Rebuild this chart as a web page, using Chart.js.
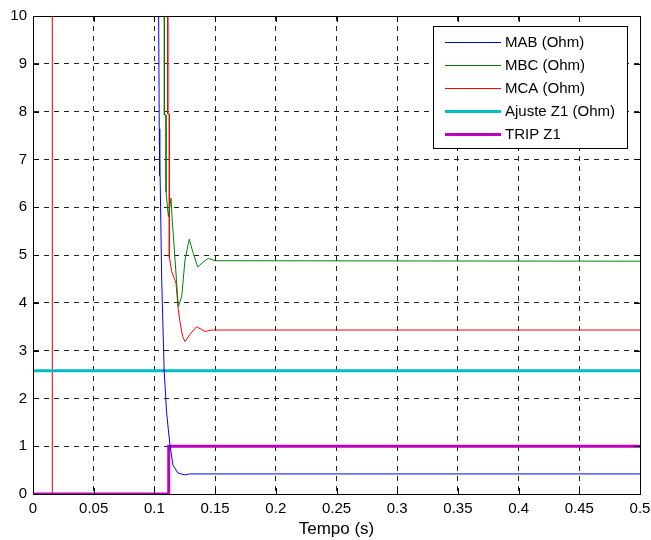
<!DOCTYPE html>
<html>
<head>
<meta charset="utf-8">
<script src="https://cdn.jsdelivr.net/npm/chart.js@4/dist/chart.umd.min.js"></script>
<style>
  html, body { margin: 0; padding: 0; background: #fff; }
  #wrap { width: 651px; height: 540px; }
</style>
</head>
<body>
<div id="wrap"><canvas id="chart" width="651" height="540"></canvas></div>
<script>
const xTicks = [0, 0.05, 0.1, 0.15, 0.2, 0.25, 0.3, 0.35, 0.4, 0.45, 0.5];
const yTicks = [0, 1, 2, 3, 4, 5, 6, 7, 8, 9, 10];

const mabT = [0.1035, 0.1040, 0.1042, 0.1046, 0.1047, 0.106, 0.108, 0.1081, 0.110, 0.1115, 0.1128, 0.1153, 0.1194, 0.125, 0.129, 0.5];
const mabV = [10, 7.64, 7.64, 6.66, 6.66, 4.5, 2.6, 2.56, 1.72, 1.34, 1.03, 0.6, 0.44, 0.40, 0.42, 0.42];

const mbcT = [0.1082, 0.1082, 0.1096, 0.1096, 0.1115, 0.1137, 0.1145, 0.1197, 0.1225, 0.1252, 0.1287, 0.1318, 0.1357, 0.140, 0.1444, 0.15, 0.5];
const mbcV = [10, 7.93, 7.93, 6.32, 5.8, 6.19, 5.8, 3.92, 4.13, 4.9, 5.33, 5.05, 4.75, 4.85, 4.93, 4.88, 4.87];

const mcaT = [0.111, 0.111, 0.1123, 0.1123, 0.1143, 0.1178, 0.1197, 0.1211, 0.1233, 0.1252, 0.1293, 0.1348, 0.1417, 0.1472, 0.5];
const mcaV = [10, 7.95, 7.95, 4.96, 4.65, 4.41, 3.85, 3.6, 3.29, 3.19, 3.34, 3.5, 3.4, 3.43, 3.43];

const ajusteT = [0, 0.5];
const ajusteV = [2.58, 2.58];

const tripT = [0, 0.1118, 0.1118, 0.5];
const tripV = [0, 0, 1, 1];

const markT = [0.0159, 0.0159];
const markV = [0, 10];

const FONT = '"Liberation Sans", Arial, sans-serif';

const pts = (ts, vs) => ts.map((t, i) => ({ x: t, y: vs[i] }));

const line = (label, ts, vs, color, width) => ({
  label,
  data: pts(ts, vs),
  borderColor: color,
  backgroundColor: color,
  borderWidth: width,
  pointRadius: 0,
  tension: 0,
  fill: false,
});

// frame, inward ticks and the legend box inside the plot area (MATLAB look)
const boxLegend = {
  id: 'boxLegend',
  afterDraw(chart) {
    const { ctx, chartArea: a } = chart;
    ctx.save();
    ctx.strokeStyle = '#000';
    ctx.lineWidth = 1;
    ctx.strokeRect(Math.round(a.left) + 0.5, Math.round(a.top) + 0.5,
      Math.round(a.right - a.left), Math.round(a.bottom - a.top));
    const xs = chart.scales.x, ys = chart.scales.y;
    ctx.beginPath();
    xTicks.forEach((t) => {
      const px = Math.round(xs.getPixelForValue(t)) + 0.5;
      ctx.moveTo(px, a.bottom); ctx.lineTo(px, a.bottom - 6);
      ctx.moveTo(px, a.top); ctx.lineTo(px, a.top + 6);
    });
    yTicks.forEach((v) => {
      const py = Math.round(ys.getPixelForValue(v)) + 0.5;
      ctx.moveTo(a.left, py); ctx.lineTo(a.left + 6, py);
      ctx.moveTo(a.right, py); ctx.lineTo(a.right - 6, py);
    });
    ctx.stroke();

    const items = chart.data.datasets.filter((d) => !d.hideInLegend);
    const bx = 433, by = 26, bw = 194, bh = 122;
    ctx.fillStyle = '#fff';
    ctx.fillRect(bx, by, bw, bh);
    ctx.strokeStyle = '#000';
    ctx.lineWidth = 1;
    ctx.strokeRect(bx + 0.5, by + 0.5, bw, bh);
    ctx.font = '15px ' + FONT;
    ctx.textBaseline = 'middle';
    items.forEach((d, i) => {
      const y = by + 16 + i * 23;
      ctx.strokeStyle = d.borderColor;
      ctx.lineWidth = d.borderWidth;
      ctx.beginPath();
      ctx.moveTo(445, y + 0.5);
      ctx.lineTo(501, y + 0.5);
      ctx.stroke();
      ctx.fillStyle = '#000';
      ctx.fillText(d.label, 505, y + 1);
    });
    ctx.restore();
  },
};

const marker = line('', markT, markV, '#e00000', 1);
marker.hideInLegend = true;

new Chart(document.getElementById('chart'), {
  type: 'line',
  data: {
    datasets: [
      line('MAB (Ohm)', mabT, mabV, '#0000ff', 1),
      line('MBC (Ohm)', mbcT, mbcV, '#008000', 1),
      line('MCA (Ohm)', mcaT, mcaV, '#ff0000', 1),
      line('Ajuste Z1 (Ohm)', ajusteT, ajusteV, '#00bfbf', 3),
      line('TRIP Z1', tripT, tripV, '#bf00bf', 3),
      marker,
    ],
  },
  options: {
    responsive: false,
    animation: false,
    layout: { padding: { top: 16, right: 0, left: 0, bottom: 0 } },
    plugins: {
      legend: { display: false },
      tooltip: { enabled: false },
    },
    scales: {
      x: {
        type: 'linear',
        min: 0,
        max: 0.5,
        afterBuildTicks: (scale) => { scale.ticks = xTicks.map((v) => ({ value: v })); },
        afterFit: (scale) => { scale.height = 46; scale.paddingRight = 11; },
        ticks: {
          color: '#000',
          padding: 6,
          maxRotation: 0,
          font: { family: FONT, size: 15 },
          callback: (v) => String(+v.toFixed(2)),
        },
        grid: { color: '#222', tickLength: 0, drawTicks: false },
        border: { display: true, color: '#000', dash: [5, 5] },
        title: {
          display: true,
          text: 'Tempo (s)',
          color: '#000',
          padding: { top: 0, bottom: 0 },
          font: { family: FONT, size: 17 },
        },
      },
      y: {
        type: 'linear',
        min: 0,
        max: 10,
        afterBuildTicks: (scale) => { scale.ticks = yTicks.map((v) => ({ value: v })); },
        afterFit: (scale) => { scale.width = 33; },
        ticks: {
          color: '#000',
          padding: 6,
          font: { family: FONT, size: 15 },
        },
        grid: { color: '#222', tickLength: 0, drawTicks: false },
        border: { display: true, color: '#000', dash: [5, 5] },
      },
    },
  },
  plugins: [boxLegend],
});
</script>
</body>
</html>
